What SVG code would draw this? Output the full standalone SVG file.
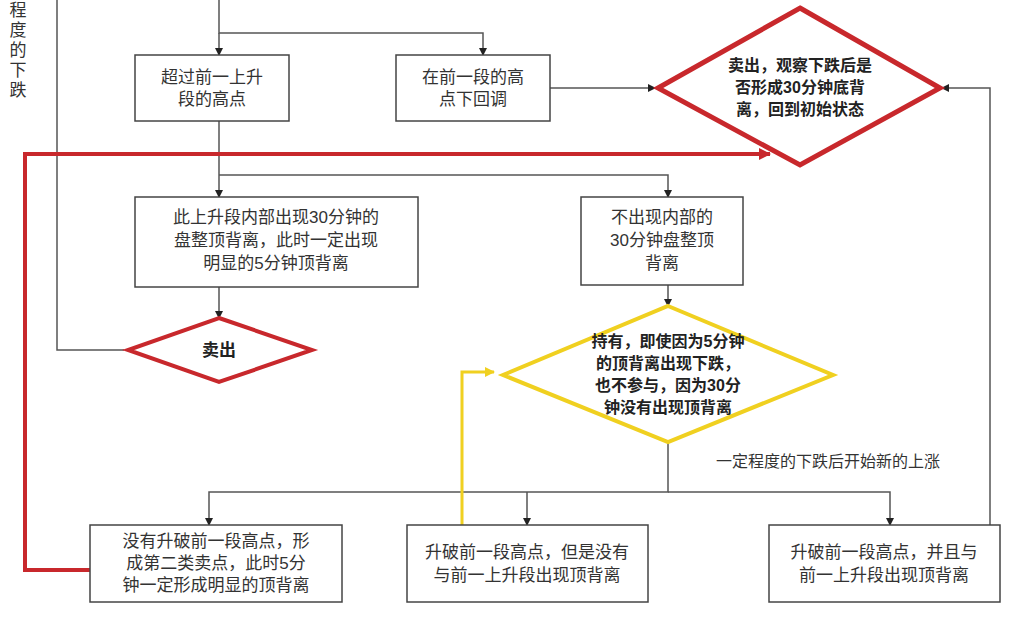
<svg xmlns="http://www.w3.org/2000/svg" width="1029" height="622" viewBox="0 0 1029 622">
<style>
text{font-family:"Liberation Sans","Noto Sans CJK SC",sans-serif;font-size:17px;fill:#333;text-anchor:middle}
.b{font-weight:bold;fill:#222}
.box{fill:#fff;stroke:#444;stroke-width:1.5}
.c{fill:none;stroke:#555;stroke-width:1.5}
.r{fill:none;stroke:#c8282c;stroke-width:4}
.y{fill:none;stroke:#f0d020;stroke-width:3}
</style>
<defs>
<marker id="a" markerWidth="8" markerHeight="8" refX="7" refY="4" orient="auto" markerUnits="userSpaceOnUse"><path d="M0,0L8,4L0,8z" fill="#222"/></marker>
<marker id="ar" markerWidth="12" markerHeight="12" refX="11" refY="6" orient="auto" markerUnits="userSpaceOnUse"><path d="M0,0L12,6L0,12z" fill="#c8282c"/></marker>
<marker id="ay" markerWidth="10" markerHeight="10" refX="9" refY="5" orient="auto" markerUnits="userSpaceOnUse"><path d="M0,0L10,5L0,10z" fill="#f0d020"/></marker>
</defs>
<rect width="1029" height="622" fill="#fff"/>
<g id="connectors">
<path class="c" d="M219,0V33H483V55" marker-end="url(#a)"/>
<path class="c" d="M219,33V55" marker-end="url(#a)"/>
<path class="c" d="M550,88H655" marker-end="url(#a)"/>
<path class="c" d="M219,121V197" marker-end="url(#a)"/>
<path class="c" d="M219,175H668V197" marker-end="url(#a)"/>
<path class="c" d="M219,287V318" marker-end="url(#a)"/>
<path class="c" d="M124,350H57V0"/>
<path class="c" d="M668,285V306" marker-end="url(#a)"/>
<path class="c" d="M668,442V492H209V525" marker-end="url(#a)"/>
<path class="c" d="M527,492V525" marker-end="url(#a)"/>
<path class="c" d="M668,492H890V525" marker-end="url(#a)"/>
<path class="c" d="M990,525V88H942" marker-end="url(#a)"/>
<path class="r" d="M90,570H25V154H770" marker-end="url(#ar)"/>
<path class="y" d="M462,525V372H494" marker-end="url(#ay)"/>
<text x="828" y="467" style="font-size:16px">一定程度的下跌后开始新的上涨</text>
</g>
<g id="left-label"><text x="18" y="16">程</text><text x="18" y="36">度</text><text x="18" y="56">的</text><text x="18" y="76">下</text><text x="18" y="96">跌</text></g>
<g id="n1"><rect class="box" x="135" y="55" width="154" height="66"/><text x="212" y="83">超过前一上升</text><text x="212" y="105">段的高点</text></g>
<g id="n2"><rect class="box" x="396" y="55" width="154" height="66"/><text x="473" y="83">在前一段的高</text><text x="473" y="105">点下回调</text></g>
<g id="n3"><polygon points="800,8 940,88 800,165 658,88" fill="#fff" stroke="#c8282c" stroke-width="5"/><text class="b" x="800" y="71" style="font-size:16px">卖出，观察下跌后是</text><text class="b" x="800" y="93" style="font-size:16px">否形成30分钟底背</text><text class="b" x="800" y="115" style="font-size:16px">离，回到初始状态</text></g>
<g id="n4"><rect class="box" x="135" y="197" width="283" height="90"/><text x="276" y="223">此上升段内部出现30分钟的</text><text x="276" y="246">盘整顶背离，此时一定出现</text><text x="276" y="269">明显的5分钟顶背离</text></g>
<g id="n5"><rect class="box" x="581" y="197" width="162" height="88"/><text x="662" y="223">不出现内部的</text><text x="662" y="246">30分钟盘整顶</text><text x="662" y="269">背离</text></g>
<g id="n6"><polygon points="219,318 312,350 219,382 128,350" fill="#fff" stroke="#c8282c" stroke-width="4"/><text class="b" x="219" y="356">卖出</text></g>
<g id="n7"><polygon points="668,306 833,375 668,442 503,375" fill="#fff" stroke="#f0d020" stroke-width="4"/><text class="b" x="668" y="347" style="font-size:16px">持有，即使因为5分钟</text><text class="b" x="668" y="369" style="font-size:16px">的顶背离出现下跌，</text><text class="b" x="668" y="391" style="font-size:16px">也不参与，因为30分</text><text class="b" x="668" y="413" style="font-size:16px">钟没有出现顶背离</text></g>
<g id="n8"><rect class="box" x="90" y="525" width="252" height="77"/><text x="216" y="547">没有升破前一段高点，形</text><text x="216" y="569">成第二类卖点，此时5分</text><text x="216" y="591">钟一定形成明显的顶背离</text></g>
<g id="n9"><rect class="box" x="407" y="525" width="241" height="77"/><text x="527" y="558">升破前一段高点，但是没有</text><text x="527" y="581">与前一上升段出现顶背离</text></g>
<g id="n10"><rect class="box" x="769" y="525" width="231" height="77"/><text x="884" y="558">升破前一段高点，并且与</text><text x="884" y="581">前一上升段出现顶背离</text></g>
</svg>
